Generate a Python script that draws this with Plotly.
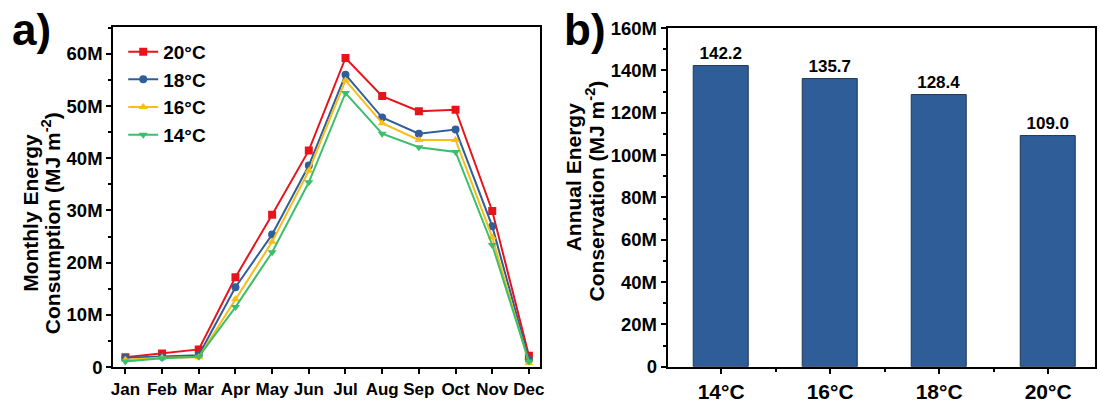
import numpy as np
import plotly.graph_objects as go

# ---------------- data ----------------
months = ["Jan", "Feb", "Mar", "Apr", "May", "Jun", "Jul", "Aug", "Sep", "Oct", "Nov", "Dec"]
series_names = ["20°C", "18°C", "16°C", "14°C"]
# monthly energy consumption, in millions (MJ m^-2)
t20 = [1.9, 2.6, 3.4, 17.2, 29.2, 41.5, 59.2, 51.9, 49.0, 49.3, 29.9, 2.2]
t18 = [1.8, 2.0, 2.3, 15.3, 25.4, 38.6, 56.0, 47.8, 44.7, 45.5, 27.0, 1.4]
t16 = [1.4, 1.8, 1.9, 13.0, 24.0, 37.6, 54.9, 46.7, 43.5, 43.5, 24.9, 0.8]
t14 = [1.1, 1.7, 2.0, 11.5, 22.0, 35.4, 52.5, 44.7, 42.1, 41.2, 23.4, 1.1]

bar_cats = ["14°C", "16°C", "18°C", "20°C"]
annual = [142.2, 135.7, 128.4, 109.0]  # millions

# ---------------- styling ----------------
FONT = "Liberation Sans, Arial, sans-serif"
colors = ["#E8141B", "#2F5E9A", "#F7BE16", "#3DBE6A"]
symbols = ["square", "circle", "triangle-up", "triangle-down"]
W, H = 1100, 408

def px(x):
    return x / W

def py(y):
    return 1 - y / H

fig = go.Figure()

for name, vals, c, s in zip(series_names, [t20, t18, t16, t14], colors, symbols):
    fig.add_trace(go.Scatter(
        x=list(range(len(months))), y=np.array(vals) * 1e6, name=name,
        mode="lines+markers", line=dict(color=c, width=2),
        marker=dict(symbol=s, size=8, color=c),
        xaxis="x", yaxis="y",
    ))

fig.add_trace(go.Bar(
    x=list(range(len(bar_cats))), y=np.array(annual) * 1e6, width=0.5,
    marker=dict(color="#2F5D98", line=dict(color="#1E3554", width=1)),
    text=[f"{v:.1f}" for v in annual], textposition="outside",
    textfont=dict(family=FONT, size=17, color="black", weight="bold"),
    cliponaxis=False, showlegend=False, xaxis="x2", yaxis="y2",
))

axis_common = dict(
    showline=True, linecolor="black", linewidth=2, mirror=True,
    ticks="outside", tickcolor="black", tickwidth=2, ticklen=5,
    showgrid=False, zeroline=False,
)

fig.update_layout(
    width=W, height=H, margin=dict(l=0, r=0, t=0, b=0),
    paper_bgcolor="white", plot_bgcolor="white",
    font=dict(family=FONT, color="black"),
    bargap=0,
    xaxis=dict(
        domain=[px(112), px(541)], range=[-0.33, 11.29],
        tickmode="array", tickvals=list(range(12)), ticktext=months,
        tickfont=dict(family=FONT, size=17, weight="bold"),
        anchor="y", **axis_common,
    ),
    yaxis=dict(
        domain=[py(375.5), py(16.5)], range=[0, 65.2e6],
        tickmode="linear", tick0=0, dtick=10e6, tickformat="~s",
        tickfont=dict(family=FONT, size=18.5, weight="bold"),
        minor=dict(ticks="outside", dtick=5e6, ticklen=3, tickwidth=1.5, tickcolor="black"),
        anchor="x", **axis_common,
    ),
    xaxis2=dict(
        domain=[px(670), 1.0], range=[-0.49, 3.43],
        tickmode="array", tickvals=list(range(4)), ticktext=bar_cats,
        tickfont=dict(family=FONT, size=21, weight="bold"),
        minor=dict(ticks="outside", tickvals=[0.5, 1.5, 2.5], ticklen=3, tickwidth=1.5, tickcolor="black"),
        anchor="y2", **axis_common,
    ),
    yaxis2=dict(
        domain=[py(375), py(18)], range=[0, 160e6],
        tickmode="linear", tick0=0, dtick=20e6, tickformat="~s",
        tickfont=dict(family=FONT, size=18.5, weight="bold"),
        minor=dict(ticks="outside", dtick=10e6, ticklen=3, tickwidth=1.5, tickcolor="black"),
        anchor="x2", **axis_common,
    ),
    legend=dict(
        x=px(122), y=py(23), xanchor="left", yanchor="top",
        font=dict(family=FONT, size=19, weight="bold"),
        bgcolor="rgba(0,0,0,0)", tracegroupgap=0, itemwidth=30,
    ),
)

ann = [
    dict(text="a)", x=px(8), y=py(20), xanchor="left", font=dict(size=44)),
    dict(text="b)", x=px(564), y=py(20), xanchor="left", font=dict(size=44)),
    dict(text="Monthly Energy", x=px(28), y=py(213), textangle=-90, font=dict(size=21)),
    dict(text="Consumption (MJ m<sup>-2</sup>)", x=px(50), y=py(224), textangle=-90, font=dict(size=21)),
    dict(text="Annual Energy", x=px(576), y=py(175), textangle=-90, font=dict(size=21)),
    dict(text="Conservation (MJ m<sup>-2</sup>)", x=px(597), y=py(190), textangle=-90, font=dict(size=21)),
]
for a in ann:
    a.setdefault("xanchor", "center")
    a.setdefault("yanchor", "middle")
    a["font"] = dict(family=FONT, color="black", weight="bold", **a["font"])
    fig.add_annotation(xref="paper", yref="paper", showarrow=False, **a)

fig.write_html("out.html")
